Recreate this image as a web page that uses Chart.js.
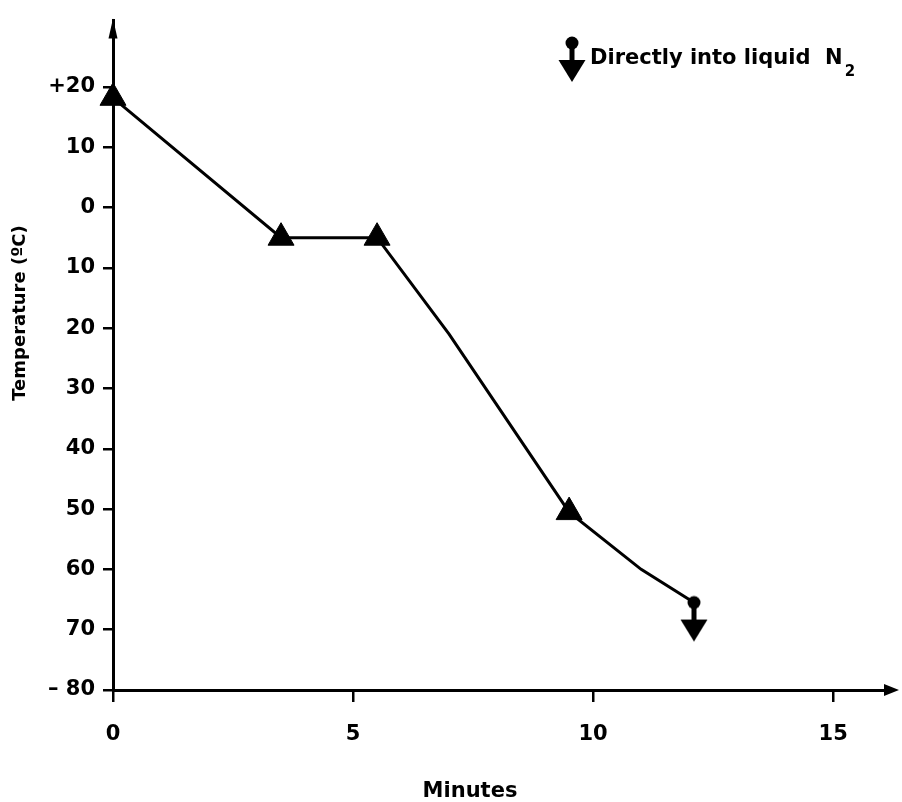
<!DOCTYPE html>
<html>
<head>
<meta charset="utf-8">
<script src="https://cdn.jsdelivr.net/npm/chart.js@4.4.1/dist/chart.umd.min.js"></script>
<style>
  html, body { margin: 0; padding: 0; background: #fff; overflow: hidden; }
  canvas { display: block; }
</style>
</head>
<body>
<canvas id="c" width="902" height="802"></canvas>
<script>
// ---- data ----
const minutes      = [0,    3.5, 5.5, 7,   9.5,   11,  12.1];
const temperature  = [18.2, -5,  -5,  -21, -50.5, -60, -65.5];
const markerKinds  = ['triangle', 'triangle', 'triangle', 'none', 'triangle', 'none', 'liquidN2'];
const xTicks       = [0, 5, 10, 15];
const yTicks       = [-80, -70, -60, -50, -40, -30, -20, -10, 0, 10, 20];
const yTickLabels  = ['\u2013 80', '70', '60', '50', '40', '30', '20', '10', '0', '10', '+20'];
const xTitle       = 'Minutes';
const yTitle       = 'Temperature (\u00BAC)';
const noteText     = 'Directly into liquid  N';
const noteSub      = '2';

const FONT = "'DejaVu Sans', 'Liberation Sans', sans-serif";

// "dot + down arrow" symbol used for the last point and the note
function makeDropIcon() {
  const cv = document.createElement('canvas');
  cv.width = 30; cv.height = 80;
  const g = cv.getContext('2d');
  g.fillStyle = '#000';
  g.beginPath(); g.arc(15, 40, 6.5, 0, Math.PI * 2); g.fill();
  g.fillRect(12.5, 40, 5, 18);
  g.beginPath(); g.moveTo(1.5, 57); g.lineTo(28.5, 57); g.lineTo(15, 79); g.closePath(); g.fill();
  return cv;
}
const dropIcon = makeDropIcon();

const extras = {
  id: 'extras',
  afterDraw(chart) {
    const ctx = chart.ctx;
    const a = chart.chartArea;
    ctx.save();
    ctx.fillStyle = '#000';
    // axis arrowheads
    ctx.beginPath();
    ctx.moveTo(a.left, a.top - 2);
    ctx.lineTo(a.left - 4.5, a.top + 18);
    ctx.lineTo(a.left + 4.5, a.top + 18);
    ctx.closePath(); ctx.fill();
    ctx.beginPath();
    ctx.moveTo(a.right + 13, a.bottom);
    ctx.lineTo(a.right - 2, a.bottom - 6);
    ctx.lineTo(a.right - 2, a.bottom + 6);
    ctx.closePath(); ctx.fill();
    // axis titles
    ctx.font = 'bold 21px ' + FONT;
    ctx.textAlign = 'center';
    ctx.textBaseline = 'middle';
    ctx.fillText(xTitle, 470, 792);
    ctx.save();
    ctx.translate(20, 313);
    ctx.rotate(-Math.PI / 2);
    ctx.font = 'bold 18px ' + FONT;
    ctx.fillText(yTitle, 0, 0);
    ctx.restore();
    // note
    ctx.drawImage(dropIcon, 572 - 15, 43 - 40);
    ctx.textAlign = 'left';
    ctx.textBaseline = 'alphabetic';
    ctx.font = 'bold 21px ' + FONT;
    ctx.fillText(noteText, 590, 64);
    const w = ctx.measureText(noteText).width;
    ctx.font = 'bold 15px ' + FONT;
    ctx.fillText(noteSub, 590 + w + 2, 76);
    ctx.restore();
  }
};

new Chart(document.getElementById('c'), {
  type: 'scatter',
  data: {
    datasets: [{
      data: minutes.map((m, i) => ({ x: m, y: temperature[i] })),
      showLine: true,
      tension: 0,
      borderColor: '#000',
      borderWidth: 3,
      backgroundColor: '#000',
      pointBackgroundColor: '#000',
      pointBorderColor: '#000',
      pointBorderWidth: 1,
      pointStyle: c => markerKinds[c.dataIndex] === 'liquidN2' ? dropIcon
                     : (markerKinds[c.dataIndex] === 'none' ? 'circle' : markerKinds[c.dataIndex]),
      pointRadius: c => markerKinds[c.dataIndex] === 'none' ? 0 : 15,
      pointHoverRadius: c => markerKinds[c.dataIndex] === 'none' ? 0 : 15,
      clip: false
    }]
  },
  plugins: [extras],
  options: {
    responsive: false,
    animation: false,
    events: [],
    layout: { padding: { top: 14, right: 13, bottom: 0, left: 0 } },
    plugins: { legend: { display: false }, tooltip: { enabled: false } },
    scales: {
      x: {
        type: 'linear',
        min: 0, max: 16.1,
        afterBuildTicks: s => { s.ticks = xTicks.map(v => ({ value: v })); },
        afterFit: s => { s.height = 112; },
        border: { display: true, color: '#000', width: 3 },
        grid: { display: true, drawOnChartArea: false, drawTicks: true, tickLength: 12, color: '#000', lineWidth: 2.5 },
        ticks: { color: '#000', padding: 20, font: { family: FONT, size: 21, weight: 'bold' }, maxRotation: 0 }
      },
      y: {
        type: 'linear',
        min: -80, max: 31,
        afterBuildTicks: s => { s.ticks = yTicks.map(v => ({ value: v })); },
        afterFit: s => { s.width = 113; },
        border: { display: true, color: '#000', width: 3 },
        grid: { display: true, drawOnChartArea: false, drawTicks: true, tickLength: 10, color: '#000', lineWidth: 2.5 },
        ticks: {
          color: '#000', padding: 8,
          font: { family: FONT, size: 21, weight: 'bold' },
          callback: v => yTickLabels[yTicks.indexOf(v)]
        }
      }
    }
  }
});
</script>
</body>
</html>
